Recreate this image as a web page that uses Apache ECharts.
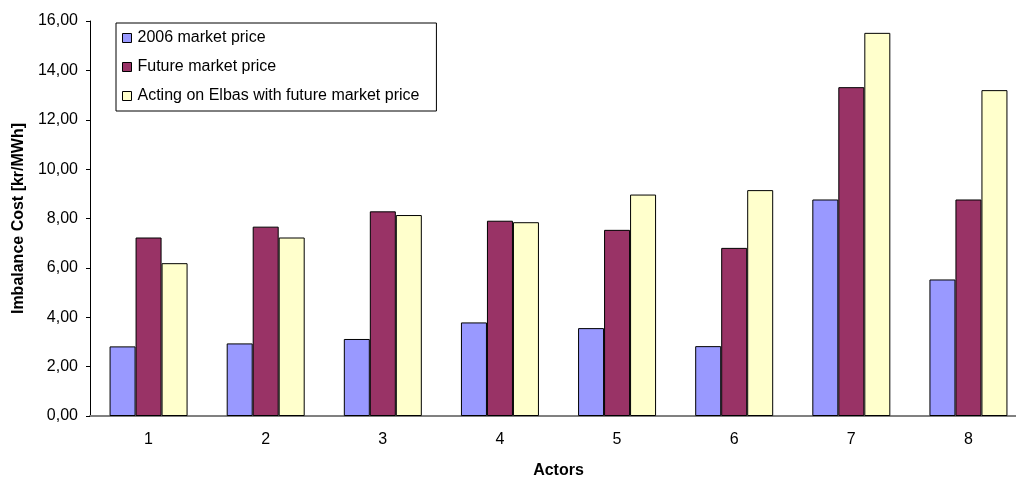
<!DOCTYPE html>
<html>
<head>
<meta charset="utf-8">
<script src="https://cdn.jsdelivr.net/npm/echarts@6/dist/echarts.min.js"></script>
<style>
  html, body { margin: 0; padding: 0; background: #fff; }
  #chart { width: 1016px; height: 478px; }
</style>
</head>
<body>
<div id="chart"></div>
<script>
// Imbalance cost per actor under three pricing scenarios
const actors = ['1', '2', '3', '4', '5', '6', '7', '8'];
const price2006 = [2.82, 2.94, 3.12, 3.79, 3.56, 2.83, 8.77, 5.53];
const futurePrice = [7.23, 7.67, 8.29, 7.91, 7.54, 6.81, 13.32, 8.77];
const elbasFuture = [6.19, 7.23, 8.14, 7.85, 8.97, 9.15, 15.52, 13.20];
const seriesNames = ['2006 market price', 'Future market price', 'Acting on Elbas with future market price'];
const seriesColors = ['#9999FF', '#993366', '#FFFFCC'];

const font = 'Liberation Sans, Arial, sans-serif';
const chart = echarts.init(document.getElementById('chart'), null, { renderer: 'canvas' });

const makeBar = (name, data, color) => ({
  name: name,
  type: 'bar',
  data: data,
  barWidth: 26,
  barGap: '0%',
  itemStyle: { color: color, borderColor: '#000', borderWidth: 1 },
  emphasis: { disabled: true }
});

chart.setOption({
  animation: false,
  textStyle: { fontFamily: font },
  // the category axis runs past the right edge of the canvas
  grid: { left: 90, top: 21, width: 937, height: 395, containLabel: false, outerBoundsMode: 'none' },
  legend: {
    orient: 'vertical',
    left: 116,
    top: 23,
    padding: [7, 17, 7, 6],
    itemWidth: 9,
    itemHeight: 9,
    itemGap: 13,
    icon: 'rect',
    borderColor: '#000',
    borderWidth: 1,
    backgroundColor: '#fff',
    textStyle: { fontFamily: font, fontSize: 16, color: '#000', padding: [0, 0, 0, 1] },
    itemStyle: { borderColor: '#000', borderWidth: 1 },
    data: seriesNames
  },
  xAxis: {
    type: 'category',
    data: actors,
    name: 'Actors',
    nameLocation: 'middle',
    nameGap: 47,
    nameTextStyle: { fontFamily: font, fontSize: 16, fontWeight: 'bold', color: '#000' },
    axisLine: { lineStyle: { color: '#808080', width: 2 } },
    axisTick: { show: false },
    axisLabel: { fontFamily: font, fontSize: 16, color: '#000', margin: 16 },
    splitLine: { show: false }
  },
  yAxis: {
    type: 'value',
    min: 0,
    max: 16,
    interval: 2,
    name: 'Imbalance Cost [kr/MWh]',
    nameLocation: 'middle',
    nameGap: 63,
    nameTextStyle: { fontFamily: font, fontSize: 16, fontWeight: 'bold', color: '#000' },
    axisLine: { show: true, lineStyle: { color: '#000', width: 1 } },
    axisTick: { show: true, inside: false, length: 4, lineStyle: { color: '#000' } },
    axisLabel: {
      fontFamily: font, fontSize: 16, color: '#000', margin: 12,
      formatter: v => v.toFixed(2).replace('.', ',')
    },
    splitLine: { show: false }
  },
  series: [
    makeBar(seriesNames[0], price2006, seriesColors[0]),
    makeBar(seriesNames[1], futurePrice, seriesColors[1]),
    makeBar(seriesNames[2], elbasFuture, seriesColors[2])
  ]
});
</script>
</body>
</html>
